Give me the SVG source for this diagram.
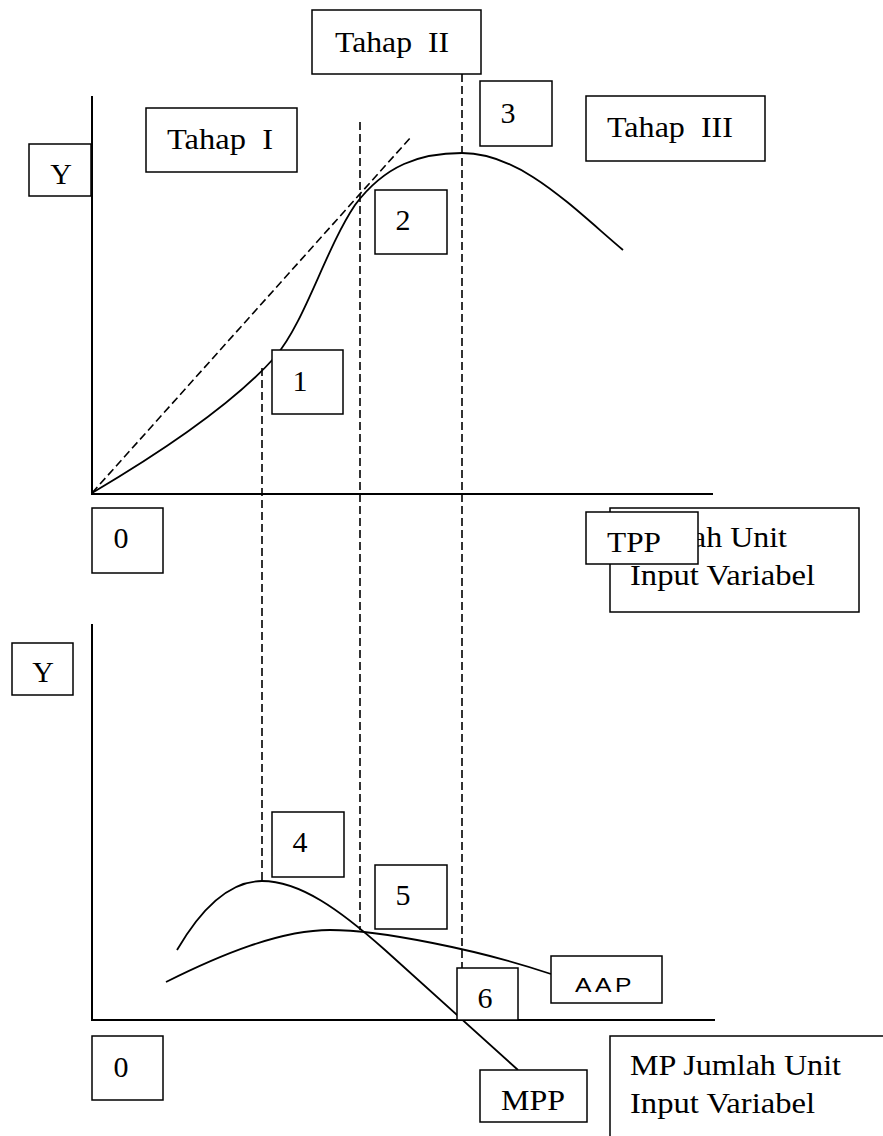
<svg xmlns="http://www.w3.org/2000/svg" width="883" height="1136" viewBox="0 0 883 1136">
<style>
.box{fill:#fff;stroke:#000;stroke-width:1.5}
.ax{stroke:#000;stroke-width:2;fill:none}
.cv{stroke:#000;stroke-width:1.8;fill:none}
.dash{stroke:#000;stroke-width:1.6;fill:none;stroke-dasharray:8,4}
text{font-family:"Liberation Serif","Times New Roman",serif;font-size:30px;fill:#000;white-space:pre}
.sans{font-family:"Liberation Sans",Arial,sans-serif;font-size:21px;letter-spacing:3px}
</style>
<rect width="883" height="1136" fill="#fff"/>
<g id="connectors">
<line class="ax" x1="92" y1="96" x2="92" y2="494"/>
<line class="ax" x1="91" y1="494" x2="713" y2="494"/>
<line class="ax" x1="92" y1="624" x2="92" y2="1021"/>
<line class="ax" x1="91" y1="1020" x2="715" y2="1020"/>
<line class="dash" x1="92" y1="493" x2="411" y2="137"/>
<line class="dash" x1="360" y1="122" x2="360" y2="930"/>
<line class="dash" x1="462" y1="74" x2="462" y2="968"/>
<line class="dash" x1="262" y1="368" x2="262" y2="881"/>
<path class="cv" d="M92,493 C170,447 235,402 275,357 C305,322 325,250 355,205 C385,165 420,153 462,153 C520,153 570,205 623,250"/>
<path class="cv" d="M177,950 C202,907 230,881 262,881 C300,881 340,910 385,950 L518,1070"/>
<path class="cv" d="M166,982 C220,955 280,930 330,930 C380,930 480,950 551,974"/>
</g>
<g id="tahap2"><rect class="box" x="312" y="10" width="169" height="64"/><text x="335" y="52" textLength="114" lengthAdjust="spacingAndGlyphs">Tahap  II</text></g>
<g id="tahap1"><rect class="box" x="146" y="108" width="151" height="64"/><text x="167" y="149" textLength="106" lengthAdjust="spacingAndGlyphs">Tahap  I</text></g>
<g id="tahap3"><rect class="box" x="586" y="96" width="179" height="65"/><text x="607" y="137" textLength="126" lengthAdjust="spacingAndGlyphs">Tahap  III</text></g>
<g id="ytop"><rect class="box" x="29" y="144" width="62" height="52"/><text x="61" y="184" text-anchor="middle">Y</text></g>
<g id="n3"><rect class="box" x="480" y="81" width="72" height="65"/><text x="508" y="123" text-anchor="middle">3</text></g>
<g id="n2"><rect class="box" x="375" y="190" width="72" height="64"/><text x="403" y="230" text-anchor="middle">2</text></g>
<g id="n1"><rect class="box" x="272" y="350" width="71" height="64"/><text x="300" y="391" text-anchor="middle">1</text></g>
<g id="zerotop"><rect class="box" x="92" y="508" width="71" height="65"/><text x="121" y="548" text-anchor="middle">0</text></g>
<g id="xlabeltop"><rect class="box" x="610" y="508" width="249" height="104"/><text x="630" y="547" textLength="157" lengthAdjust="spacingAndGlyphs">Jumlah Unit</text><text x="630" y="585" textLength="185" lengthAdjust="spacingAndGlyphs">Input Variabel</text></g>
<g id="tpp"><rect class="box" x="586" y="512" width="112" height="52"/><text x="607" y="552" textLength="54" lengthAdjust="spacingAndGlyphs">TPP</text></g>
<g id="ybottom"><rect class="box" x="12" y="643" width="61" height="52"/><text x="43" y="682" text-anchor="middle">Y</text></g>
<g id="n4"><rect class="box" x="272" y="812" width="72" height="65"/><text x="300" y="852" text-anchor="middle">4</text></g>
<g id="n5"><rect class="box" x="375" y="865" width="72" height="64"/><text x="403" y="905" text-anchor="middle">5</text></g>
<g id="n6"><rect class="box" x="457" y="968" width="61" height="52"/><text x="485" y="1008" text-anchor="middle">6</text></g>
<g id="aap"><rect class="box" x="551" y="956" width="111" height="47"/><text class="sans" x="575" y="992" textLength="60" lengthAdjust="spacingAndGlyphs">AAP</text></g>
<g id="zerobottom"><rect class="box" x="92" y="1036" width="71" height="64"/><text x="121" y="1077" text-anchor="middle">0</text></g>
<g id="mpp"><rect class="box" x="480" y="1070" width="107" height="52"/><text x="501" y="1110" textLength="64" lengthAdjust="spacingAndGlyphs">MPP</text></g>
<g id="xlabelbottom"><rect class="box" x="610" y="1036" width="300" height="150"/><text x="630" y="1075" textLength="211" lengthAdjust="spacingAndGlyphs">MP Jumlah Unit</text><text x="630" y="1113" textLength="185" lengthAdjust="spacingAndGlyphs">Input Variabel</text></g>
</svg>
